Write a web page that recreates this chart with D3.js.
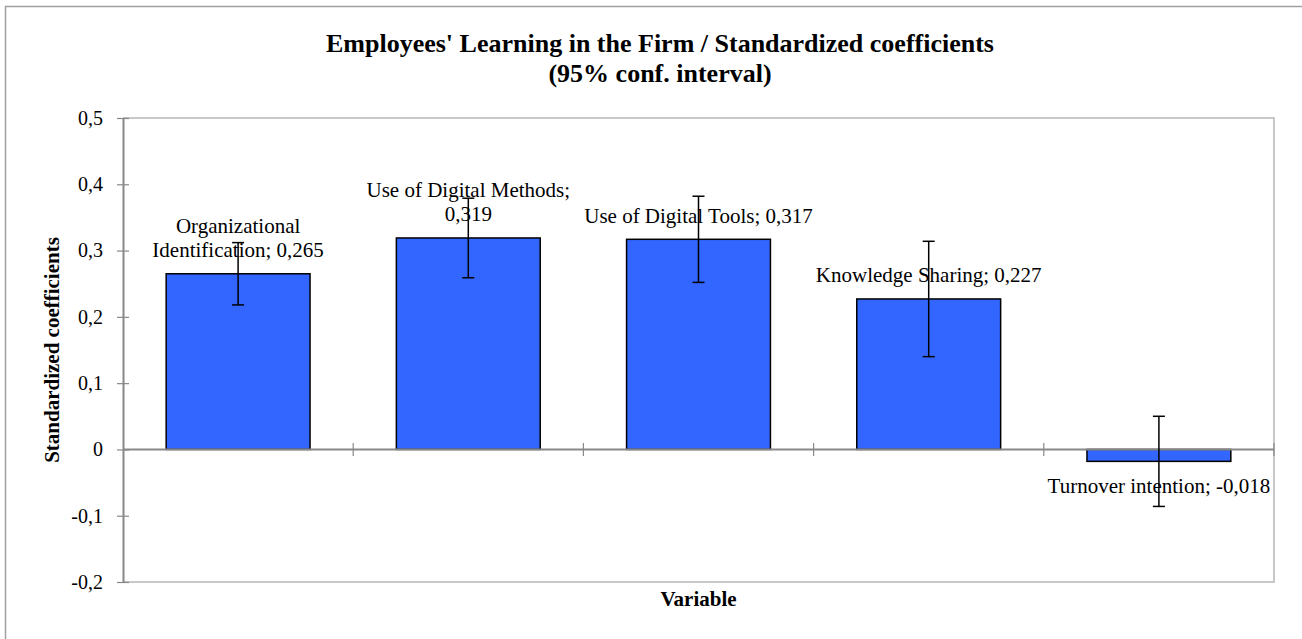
<!DOCTYPE html>
<html>
<head>
<meta charset="utf-8">
<script src="https://cdn.jsdelivr.net/npm/d3@7"></script>
<style>
  body { margin: 0; background: #fff; }
  svg text { font-family: "Liberation Serif", "Times New Roman", serif; fill: #000; }
</style>
</head>
<body>
<svg id="chart" width="1302" height="639"></svg>
<script>
var categories = ["Organizational Identification", "Use of Digital Methods", "Use of Digital Tools", "Knowledge Sharing", "Turnover intention"];
var coefficients = [0.265, 0.319, 0.317, 0.227, -0.018];
var ciHalfWidths = [0.047, 0.060, 0.065, 0.087, 0.068];
var yTicks = [-0.2, -0.1, 0, 0.1, 0.2, 0.3, 0.4, 0.5];

var titleLines = ["Employees' Learning in the Firm / Standardized coefficients", "(95% conf. interval)"];
var yTitle = "Standardized coefficients";
var xTitle = "Variable";

var serif = '"Liberation Serif", "Times New Roman", serif';
var svg = d3.select("#chart");

var plot = { left: 123, right: 1274, top: 118, bottom: 582 };

var comma = d3.formatLocale({ decimal: ",", thousands: ".", grouping: [3], currency: ["", ""], minus: "-" });
var tickFmt = comma.format(".1f");
var valFmt = comma.format(".3f");

var x = d3.scaleBand()
    .domain(categories)
    .range([plot.left, plot.right])
    .paddingInner(0.375)
    .paddingOuter(0.1875);

var y = d3.scaleLinear()
    .domain([-0.2, 0.5])
    .range([plot.bottom, plot.top]);

// outer chart frame (runs off the right / bottom like the original)
svg.append("rect")
    .attr("x", 5.5).attr("y", 6.5)
    .attr("width", 1310).attr("height", 650)
    .attr("fill", "none")
    .attr("stroke", "#a0a0a0")
    .attr("stroke-width", 1.5);

// plot area border
svg.append("path")
    .attr("d", "M" + plot.left + "," + plot.top + "H" + plot.right + "V" + plot.bottom + "H" + plot.left)
    .attr("fill", "none")
    .attr("stroke", "#c8c8c8")
    .attr("stroke-width", 2);

// bars
svg.append("g")
    .selectAll("rect")
    .data(coefficients)
    .enter().append("rect")
    .attr("x", function(d, i) { return x(categories[i]); })
    .attr("width", x.bandwidth())
    .attr("y", function(d) { return y(Math.max(0, d)); })
    .attr("height", function(d) { return Math.abs(y(d) - y(0)); })
    .attr("fill", "#3366ff")
    .attr("stroke", "#000")
    .attr("stroke-width", 1.5);

// zero line + category ticks
svg.append("line")
    .attr("x1", plot.left).attr("x2", plot.right)
    .attr("y1", y(0)).attr("y2", y(0))
    .attr("stroke", "#888")
    .attr("stroke-width", 2);

var step = x.step();
svg.append("g")
    .selectAll("line")
    .data(d3.range(1, categories.length + 1))
    .enter().append("line")
    .attr("x1", function(k) { return plot.left + k * step; })
    .attr("x2", function(k) { return plot.left + k * step; })
    .attr("y1", y(0) - 6.5)
    .attr("y2", y(0) + 6.5)
    .attr("stroke", "#888")
    .attr("stroke-width", 1.2);

// y axis
var yAxis = svg.append("g")
    .attr("transform", "translate(" + plot.left + ",0)")
    .call(d3.axisLeft(y)
        .tickValues(yTicks)
        .tickSizeInner(6)
        .tickSizeOuter(0)
        .tickPadding(14)
        .tickFormat(function(d) { return Math.abs(d) < 1e-9 ? "0" : tickFmt(d); }));

yAxis.attr("font-family", null).attr("font-size", null);
yAxis.select(".domain").attr("stroke", "#888").attr("stroke-width", 2);
yAxis.selectAll(".tick line").attr("x1", 6).attr("stroke", "#888").attr("stroke-width", 1.2);
yAxis.selectAll(".tick text")
    .style("font-family", serif)
    .style("font-size", "20px")
    .attr("fill", "#000");

// error bars (95% CI)
var err = svg.append("g").attr("stroke", "#000").attr("stroke-width", 1.5);
coefficients.forEach(function(v, i) {
    var cx = x(categories[i]) + x.bandwidth() / 2;
    var hi = y(v + ciHalfWidths[i]), lo = y(v - ciHalfWidths[i]);
    err.append("line").attr("x1", cx).attr("x2", cx).attr("y1", hi).attr("y2", lo);
    err.append("line").attr("x1", cx - 6).attr("x2", cx + 6).attr("y1", hi).attr("y2", hi);
    err.append("line").attr("x1", cx - 6).attr("x2", cx + 6).attr("y1", lo).attr("y2", lo);
});

// data labels, wrapped like Excel does
var labelG = svg.append("g").attr("font-size", 21).attr("text-anchor", "middle");
var maxLabelWidth = 236;

function wrapWords(txt) {
    var probe = labelG.append("text");
    var words = txt.split(" "), lines = [], cur = "";
    words.forEach(function(w) {
        var test = cur ? cur + " " + w : w;
        probe.text(test);
        if (cur && probe.node().getComputedTextLength() > maxLabelWidth) {
            lines.push(cur);
            cur = w;
        } else {
            cur = test;
        }
    });
    lines.push(cur);
    probe.remove();
    return lines;
}

coefficients.forEach(function(v, i) {
    var cx = x(categories[i]) + x.bandwidth() / 2;
    var lines = wrapWords(categories[i] + "; " + valFmt(v));
    var lh = 24.5;
    var firstBase;
    if (v >= 0) {
        firstBase = y(v) - 16.6 - (lines.length - 1) * lh;
    } else {
        firstBase = y(v) + 31.5;
    }
    var t = labelG.append("text").attr("x", cx).attr("y", firstBase);
    lines.forEach(function(l, j) {
        t.append("tspan").attr("x", cx).attr("y", firstBase + j * lh).text(l);
    });
});

// titles
svg.append("g")
    .attr("font-weight", "bold")
    .attr("font-size", 26)
    .attr("text-anchor", "middle")
    .selectAll("text")
    .data(titleLines)
    .enter().append("text")
    .attr("x", 660)
    .attr("y", function(d, i) { return 52 + i * 30; })
    .text(function(d) { return d; });

svg.append("text")
    .attr("transform", "translate(59," + ((plot.top + plot.bottom) / 2) + ") rotate(-90)")
    .attr("text-anchor", "middle")
    .attr("font-weight", "bold")
    .attr("font-size", 21)
    .text(yTitle);

svg.append("text")
    .attr("x", (plot.left + plot.right) / 2)
    .attr("y", 606)
    .attr("text-anchor", "middle")
    .attr("font-weight", "bold")
    .attr("font-size", 21)
    .text(xTitle);
</script>
</body>
</html>
